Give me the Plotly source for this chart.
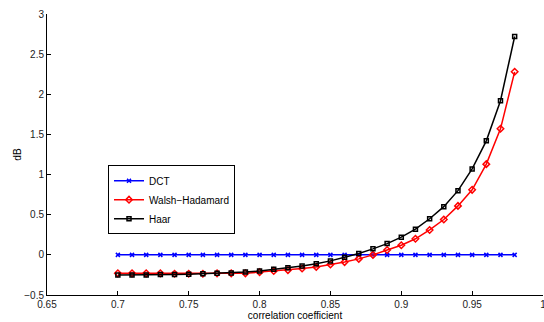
import plotly.graph_objects as go

rho = [0.70, 0.71, 0.72, 0.73, 0.74, 0.75, 0.76, 0.77, 0.78, 0.79,
       0.80, 0.81, 0.82, 0.83, 0.84, 0.85, 0.86, 0.87, 0.88, 0.89,
       0.90, 0.91, 0.92, 0.93, 0.94, 0.95, 0.96, 0.97, 0.98]
dct = [0.0] * 29
walsh = [-0.23, -0.23, -0.23, -0.23, -0.235, -0.235, -0.235, -0.23, -0.23, -0.23,
         -0.215, -0.20, -0.19, -0.17, -0.15, -0.12, -0.09, -0.05, 0.00, 0.06,
         0.12, 0.20, 0.31, 0.44, 0.61, 0.81, 1.13, 1.57, 2.28]
haar = [-0.25, -0.25, -0.25, -0.245, -0.245, -0.24, -0.235, -0.23, -0.225, -0.215,
        -0.20, -0.18, -0.16, -0.14, -0.11, -0.075, -0.03, 0.016, 0.075, 0.14,
        0.22, 0.32, 0.45, 0.60, 0.80, 1.07, 1.42, 1.92, 2.72]

x_ticks = [0.65, 0.7, 0.75, 0.8, 0.85, 0.9, 0.95, 1]
x_labels = ["0.65", "0.7", "0.75", "0.8", "0.85", "0.9", "0.95", "1"]
y_ticks = [-0.5, 0, 0.5, 1, 1.5, 2, 2.5, 3]
y_labels = ["\u22120.5", "0", "0.5", "1", "1.5", "2", "2.5", "3"]

fig = go.Figure()
fig.add_trace(go.Scatter(x=rho, y=dct, name="DCT", mode="lines+markers",
                         line=dict(color="#0000ff", width=1.5),
                         marker=dict(symbol="x-thin-open", size=4,
                                     line=dict(color="#0000ff", width=1.5))))
fig.add_trace(go.Scatter(x=rho, y=walsh, name="Walsh\u2212Hadamard", mode="lines+markers",
                         line=dict(color="#ff0000", width=1.5),
                         marker=dict(symbol="diamond-open", size=5,
                                     line=dict(color="#ff0000", width=1.5))))
fig.add_trace(go.Scatter(x=rho, y=haar, name="Haar", mode="lines+markers",
                         line=dict(color="#000000", width=1.5),
                         marker=dict(symbol="square-open", size=4,
                                     line=dict(color="#000000", width=1.5))))

axis_common = dict(showgrid=False, zeroline=False, showline=True,
                   linecolor="black", linewidth=1, ticks="inside", ticklen=4,
                   tickcolor="black", tickfont=dict(size=10, color="#222"),
                   ticklabeloverflow="allow")
fig.update_layout(
    width=544, height=322,
    margin=dict(l=47, r=1, t=14, b=27),
    paper_bgcolor="white", plot_bgcolor="white",
    font=dict(family="Liberation Sans, Arial, sans-serif", size=10, color="black"),
    xaxis=dict(range=[0.65, 1.0], tickvals=x_ticks, ticktext=x_labels,
               title=dict(text="correlation coefficient", standoff=1, font=dict(size=10)),
               automargin=False, **axis_common),
    yaxis=dict(range=[-0.5, 3.0], tickvals=y_ticks, ticktext=y_labels,
               title=dict(text="dB", standoff=0, font=dict(size=10)),
               automargin=False, **axis_common),
    legend=dict(x=0.123, y=0.462, xanchor="left", yanchor="top",
                bordercolor="black", borderwidth=1, bgcolor="white",
                font=dict(size=10), tracegroupgap=0, itemwidth=30),
    showlegend=True,
)
fig.write_html("out.html", config={"displayModeBar": False},
               post_script="document.body.style.margin='0px';")
